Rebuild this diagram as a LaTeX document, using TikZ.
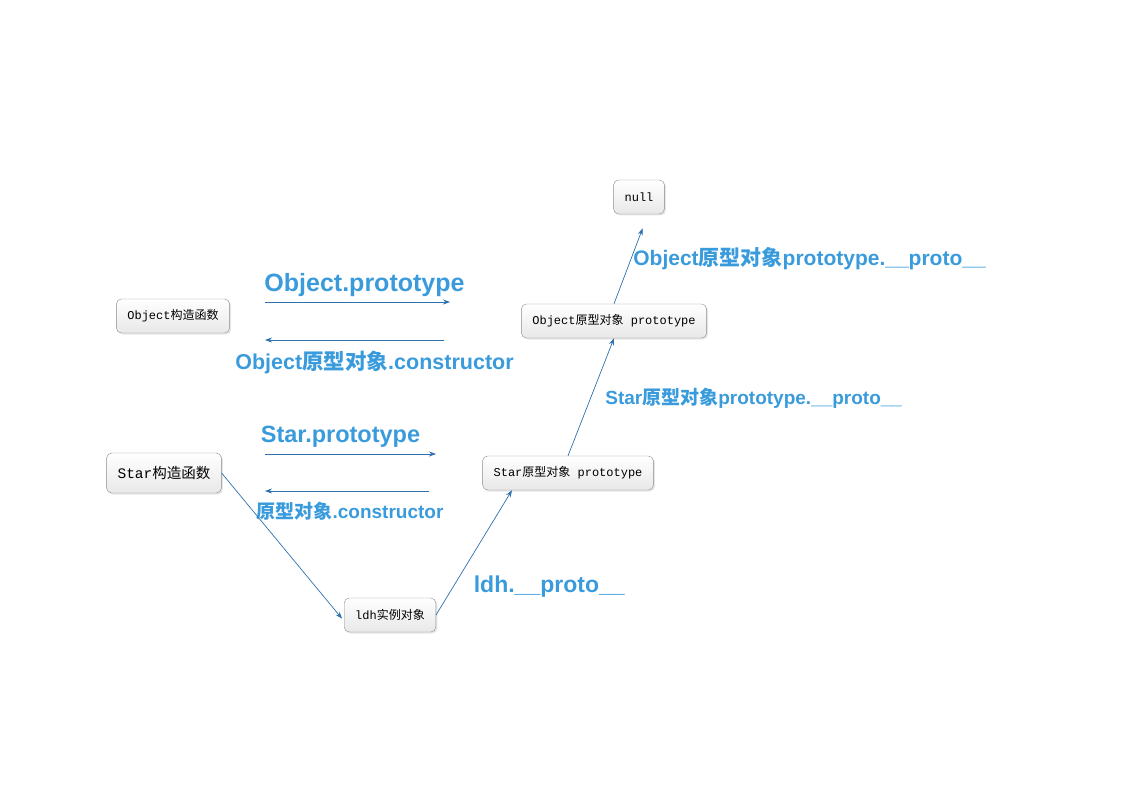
\documentclass[tikz,border=0pt]{standalone}
\usepackage{fontspec}
\setmainfont{Liberation Sans}
\setmonofont{Liberation Mono}
\newfontfamily\cjk{Noto Sans CJK SC}
\usetikzlibrary{arrows.meta,shadows}

\definecolor{lblue}{HTML}{3A9BDC}
\definecolor{ablue}{HTML}{2E70AE}
\newcommand{\zh}[1]{{\cjk #1}}
\newcommand{\fsz}[1]{\fontsize{#1}{#1}\selectfont}

\begin{document}
\begin{tikzpicture}[x=1pt,y=-1pt,>={Stealth[length=7pt,width=5pt]},
    obj/.style={draw=black!45,rounded corners=5pt,top color=white,bottom color=black!9,
        drop shadow={shadow xshift=1.5pt,shadow yshift=-1.5pt,opacity=0.2},
        font=\ttfamily\fsz{12},inner xsep=11pt,minimum height=34pt},
    arr/.style={->,draw=ablue,line width=0.7pt},
    lbl/.style={text=lblue,font=\bfseries\fsz{21},inner sep=2pt}]
        \useasboundingbox (0,0) rectangle (1123,794);

        \node[obj] (nul) at (639,197) {null};
        \node[obj] (oproto) at (614,321) {Object\zh{原型对象} prototype};
        \node[obj] (sproto) at (568,473) {Star\zh{原型对象} prototype};
        \node[obj] (ldh) at (390,615) {ldh\zh{实例对象}};
        \node[obj] (ocons) at (173,316) {Object\zh{构造函数}};
        \node[obj,minimum height=40pt,font=\ttfamily\fsz{14.5}] (scons) at (164,473) {Star\zh{构造函数}};

        % free ends of the prototype / constructor arrows
        \coordinate (ot1) at (265,302);
        \coordinate (ot2) at (450,302);
        \coordinate (oc1) at (444,340);
        \coordinate (oc2) at (265,340);
        \coordinate (st1) at (265,454);
        \coordinate (st2) at (436,454);
        \coordinate (sc1) at (429,491);
        \coordinate (sc2) at (265,491);

        \path (ot1) edge[arr] node[lbl,above,xshift=7pt,yshift=3pt,font=\bfseries\fsz{25}] {Object.prototype} (ot2)
              (oc1) edge[arr] node[lbl,below,xshift=20pt,yshift=-9pt,font=\bfseries\fsz{21.5}] {Object\zh{原型对象}.constructor} (oc2)
              (st1) edge[arr] node[lbl,above,xshift=-10pt,yshift=4pt,font=\bfseries\fsz{23.5}] {Star.prototype} (st2)
              (sc1) edge[arr] node[lbl,below,xshift=3pt,yshift=-9pt,font=\bfseries\fsz{19}] {\zh{原型对象}.constructor} (sc2);

        \path (scons.east) edge[arr,shorten >=3pt] ([yshift=-6pt]ldh.west)
              (ldh.east) edge[arr] node[lbl,right=18pt,pos=0.23,font=\bfseries\fsz{23}] {ldh.\_\_proto\_\_} ([xshift=-56pt]sproto.south)
              (sproto.north) edge[arr] node[lbl,right=12pt,yshift=-1pt,font=\bfseries\fsz{19}] {Star\zh{原型对象}prototype.\_\_proto\_\_} (oproto.south)
              (oproto.north) edge[arr,shorten >=15pt] node[lbl,right=0pt,pos=0.5] {Object\zh{原型对象}prototype.\_\_proto\_\_} ([xshift=9pt]nul.south);
\end{tikzpicture}
\end{document}
